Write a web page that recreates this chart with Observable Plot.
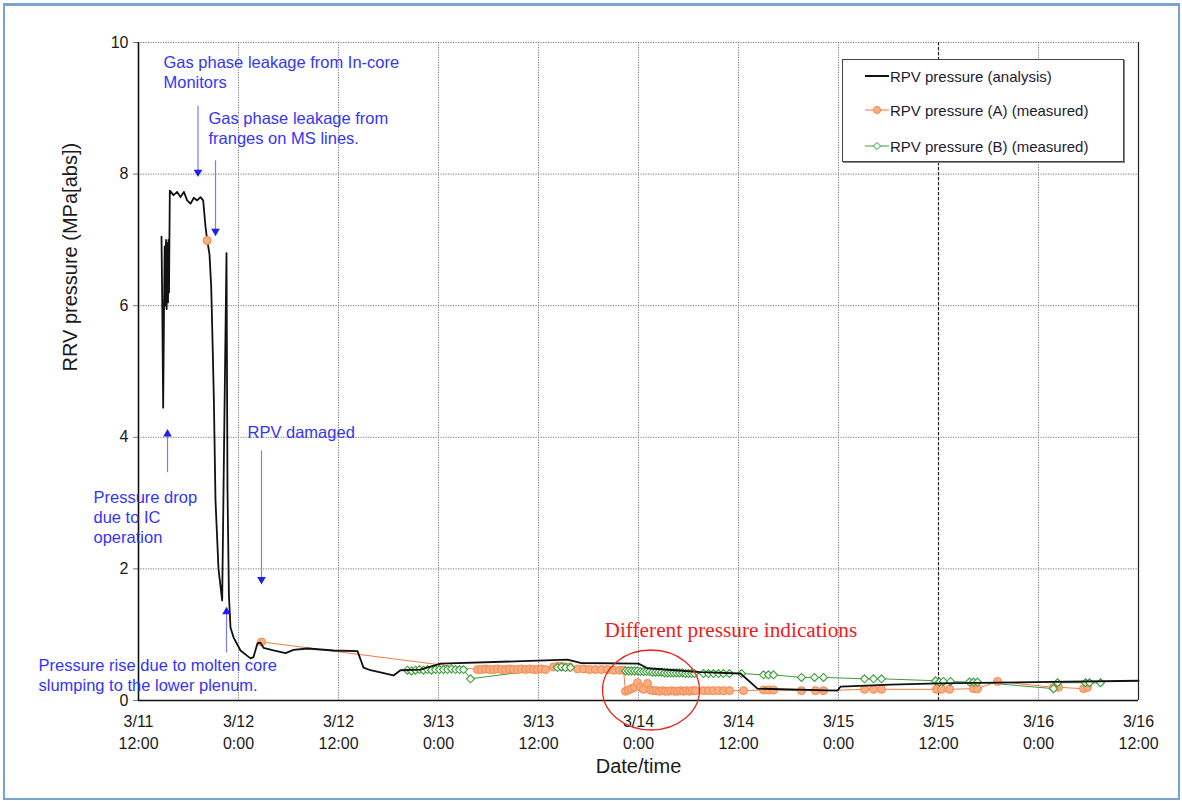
<!DOCTYPE html>
<html>
<head>
<meta charset="utf-8">
<script src="https://cdn.jsdelivr.net/npm/d3@7"></script>
<script src="https://cdn.jsdelivr.net/npm/@observablehq/plot@0.6"></script>
<style>
  html, body { margin: 0; padding: 0; background: #fff; }
  #wrap { position: relative; width: 1182px; height: 801px; overflow: hidden; font-family: "Liberation Sans", Arial, sans-serif; }
  #border { position: absolute; left: 3px; top: 3px; width: 1173px; height: 792px; border: 2px solid #7aa3d2; border-top-width: 3px; pointer-events: none; box-sizing: content-box; }
  #legend { position: absolute; left: 842px; top: 59px; width: 280px; height: 101px; border: 1px solid #444; background: #fff; box-shadow: 1px 1px 0 #888; }
  .row { position: absolute; left: 22px; height: 20px; display: flex; align-items: center; font-size: 15px; color: #1e1a2e; white-space: nowrap; }
  .row svg { margin-right: 1px; }
</style>
</head>
<body>
<div id="wrap">
  <div id="chart"></div>
  <div id="legend"></div>
  <div id="border"></div>
</div>
<script>
// ---------- data (hours after 3/11 12:00, pressure in MPa[abs]) ----------
const analysisHours = [2.76,2.86,2.96,3.06,3.14,3.22,3.30,3.38,3.46,3.54,3.60,3.66,3.76,4.2,4.64,5.04,5.44,5.84,6.24,6.64,7.04,7.44,7.76,8.04,8.24,8.52,8.72,8.84,9.04,9.24,9.6,10.04,10.3,10.56,10.68,10.85,11.04,11.4,12.24,13.44,13.8,14.28,14.64,15.0,16.2,17.64,18.6,20.28,23.4,26.28,27.0,27.84,30.6,31.44,33.84,36.24,51.48,53.04,60.0,61.08,67.44,72.24,74.28,83.88,84.24,85.8,90.24,96,120];
const analysisMPa   = [7.05,5.9,4.45,5.9,6.9,6.0,7.0,5.95,6.95,6.05,7.0,6.2,7.75,7.68,7.73,7.65,7.73,7.6,7.55,7.64,7.6,7.65,7.6,7.2,7.0,6.78,6.3,5.7,4.6,3.04,2.0,1.52,4.2,6.8,3.2,1.6,1.11,0.96,0.76,0.64,0.66,0.87,0.88,0.8,0.76,0.72,0.77,0.79,0.76,0.75,0.5,0.46,0.38,0.46,0.47,0.56,0.62,0.57,0.56,0.49,0.43,0.41,0.18,0.15,0.21,0.22,0.24,0.26,0.3];

// first measured A point stands alone (no connecting line)
const measAIsolatedHours = [8.24];
const measAIsolatedMPa   = [6.99];
const measAHours = [14.76,40.68,41.16,41.64,42.12,42.6,43.08,43.56,44.04,44.52,45.0,45.48,45.96,46.44,46.92,47.4,47.88,48.36,48.84,49.8,50.28,50.76,51.24,51.72,52.68,53.4,54.12,54.84,55.56,56.28,57.0,57.72,58.2,58.44,58.8,59.16,59.52,59.88,60.24,60.6,61.08,61.44,61.8,62.16,62.52,62.88,63.24,63.6,63.96,64.32,64.68,65.04,65.4,65.76,66.12,66.48,66.84,67.8,68.4,69.0,69.6,70.2,70.92,72.6,75.0,75.6,76.2,79.56,81.24,82.2,87.12,88.2,89.16,95.76,96.36,97.32,100.2,100.68,103.08,109.8,110.4,113.4,113.88];
const measAMPa   = [0.89,0.47,0.47,0.48,0.47,0.47,0.48,0.47,0.47,0.48,0.47,0.47,0.48,0.47,0.48,0.47,0.47,0.48,0.47,0.51,0.52,0.52,0.51,0.51,0.48,0.48,0.47,0.47,0.47,0.47,0.46,0.46,0.46,0.14,0.16,0.18,0.2,0.27,0.2,0.17,0.26,0.16,0.15,0.15,0.14,0.15,0.14,0.14,0.15,0.14,0.14,0.15,0.14,0.15,0.14,0.15,0.15,0.15,0.15,0.15,0.15,0.15,0.15,0.15,0.16,0.16,0.16,0.15,0.15,0.15,0.17,0.17,0.17,0.17,0.17,0.17,0.18,0.18,0.29,0.2,0.2,0.18,0.2];

const measBHours = [32.28,32.76,33.24,33.72,34.2,34.68,35.16,35.64,36.12,36.6,37.08,37.56,38.04,38.52,39.0,39.84,50.28,50.76,51.24,51.84,58.44,58.8,59.16,59.52,59.88,60.24,60.6,60.96,61.32,61.68,62.04,62.4,62.76,63.12,63.48,63.84,64.2,64.56,64.92,65.28,65.64,66.0,66.36,66.72,67.8,68.4,69.0,69.6,70.2,70.92,72.36,75.0,75.6,76.2,79.56,81.12,82.2,87.12,88.2,89.16,95.64,96.12,96.6,97.44,99.72,100.2,100.68,109.8,110.28,113.64,114.12,115.44];
const measBMPa   = [0.46,0.45,0.46,0.47,0.46,0.47,0.46,0.47,0.47,0.47,0.47,0.48,0.47,0.47,0.47,0.33,0.5,0.51,0.5,0.5,0.45,0.45,0.45,0.45,0.45,0.44,0.44,0.44,0.44,0.43,0.43,0.43,0.43,0.42,0.42,0.42,0.42,0.42,0.42,0.42,0.41,0.41,0.41,0.41,0.41,0.41,0.41,0.41,0.41,0.41,0.41,0.39,0.39,0.39,0.35,0.35,0.35,0.33,0.33,0.33,0.3,0.28,0.29,0.29,0.28,0.28,0.28,0.18,0.27,0.27,0.27,0.27];

const xTickHours  = [0,12,24,36,48,60,72,84,96,108,120];
const xTickLabels = ["3/11\n12:00","3/12\n0:00","3/12\n12:00","3/13\n0:00","3/13\n12:00","3/14\n0:00","3/14\n12:00","3/15\n0:00","3/15\n12:00","3/16\n0:00","3/16\n12:00"];
const yTicks = [0,2,4,6,8,10];

const seriesNames = ["RPV pressure (analysis)","RPV pressure (A) (measured)","RPV pressure (B) (measured)"];

// annotations
const noteTexts  = ["Gas phase leakage from In-core\nMonitors","Gas phase leakage from\nfranges on MS lines.","Pressure drop\ndue to IC\noperation","Pressure rise due to molten core\nslumping to the lower plenum."];
const noteHours  = [3.0, 8.4, -5.4, -12.0];
const noteMPa    = [9.82, 8.97, 3.21, 0.66];
const labelText  = ["RPV damaged"];
const labelHours = [13.08];
const labelMPa   = [4.07];
const arrowHours = [7.14, 9.24, 14.76, 3.48, 10.56];
const arrowFrom  = [9.04, 8.21, 3.80, 3.47, 0.73];
const arrowTo    = [8.03, 7.13, 1.84, 4.05, 1.35];
const redText = "Different pressure indications";
const redHours = 55.92, redMPa = 1.064;
const circleHours = 61.56, circleMPa = 0.152;

// ---------- build ----------
const T0 = Date.UTC(2011, 2, 11, 12);
const toDate = h => new Date(T0 + h * 3600e3);
const zipSeries = (hs, vs) => hs.map((h, i) => ({t: toDate(h), p: vs[i]}));
const analysis = zipSeries(analysisHours, analysisMPa);
const measA = zipSeries(measAHours, measAMPa);
const measA0 = zipSeries(measAIsolatedHours, measAIsolatedMPa);
const measB = zipSeries(measBHours, measBMPa);
const xTicks = xTickHours.map(toDate);
const notes = noteTexts.map((s, i) => ({s, t: toDate(noteHours[i]), p: noteMPa[i]}));
const labels = labelText.map((s, i) => ({s, t: toDate(labelHours[i]), p: labelMPa[i]}));
const arrows = arrowHours.map((h, i) => ({t: toDate(h), p1: arrowFrom[i], p2: arrowTo[i], up: arrowTo[i] > arrowFrom[i]}));

const blue = "#3535f5";
const orange = "#f07b45";
const green = "#3d9a3d";
const dotA = {x: "t", y: "p", r: 4, symbol: "circle", fill: "#f9ad82", stroke: "#f3884c", strokeWidth: 1};

function ellipseMark(index, scales) {
  const ns = "http://www.w3.org/2000/svg";
  const el = document.createElementNS(ns, "ellipse");
  el.setAttribute("cx", scales.x(toDate(circleHours)));
  el.setAttribute("cy", scales.y(circleMPa));
  el.setAttribute("rx", 48.5);
  el.setAttribute("ry", 40);
  el.setAttribute("fill", "none");
  el.setAttribute("stroke", "#e8241c");
  el.setAttribute("stroke-width", 1.3);
  return el;
}

const chart = Plot.plot({
  width: 1182,
  height: 801,
  marginLeft: 138,
  marginRight: 44,
  marginTop: 42,
  marginBottom: 101,
  style: {fontFamily: "'Liberation Sans', Arial, sans-serif", background: "transparent", overflow: "visible"},
  x: {type: "utc", domain: [toDate(0), toDate(120)], axis: null},
  y: {domain: [0, 10], axis: null},
  marks: [
    Plot.gridY(yTicks, {stroke: "#777", strokeOpacity: 1, strokeDasharray: "1.2,1.3"}),
    Plot.gridX(xTicks, {stroke: "#777", strokeOpacity: 1, strokeDasharray: "1.2,1.3"}),
    Plot.ruleX([toDate(96)], {stroke: "#222", strokeDasharray: "3,2", strokeWidth: 1.2}),
    Plot.ruleX([toDate(120)], {stroke: "#222", strokeWidth: 1.2}),
    Plot.axisY(yTicks, {tickSize: 5, tickPadding: 5, fontSize: 16, stroke: "#777", fill: "#1a1a1a", label: null, tickFormat: d => String(d)}),
    Plot.text(xTicks, {x: d => d, y: () => 0, text: (d, i) => xTickLabels[i], dy: 11, lineAnchor: "top", lineHeight: 1.38, fontSize: 16, fill: "#1a1a1a"}),
    Plot.text(["RRV pressure (MPa[abs])"], {frameAnchor: "left", dx: -68, rotate: -90, fontSize: 20, fill: "#1a1a1a"}),
    Plot.text(["Date/time"], {frameAnchor: "bottom", dy: 72, fontSize: 20, fill: "#1a1a1a"}),
    // data
    Plot.line(measB, {x: "t", y: "p", stroke: green, strokeWidth: 1}),
    Plot.line(measA, {x: "t", y: "p", stroke: orange, strokeWidth: 1}),
    Plot.dot(measA, dotA),
    Plot.dot(measB, {x: "t", y: "p", r: 3.6, symbol: "diamond2", fill: "#f4fbf2", stroke: green, strokeWidth: 1.1}),
    Plot.line(analysis, {x: "t", y: "p", stroke: "#111", strokeWidth: 1.8, strokeLinejoin: "round"}),
    Plot.dot(measA0, dotA),
    Plot.ruleX([toDate(0)], {stroke: "#111", strokeWidth: 1.6}),
    Plot.ruleY([0], {stroke: "#111", strokeWidth: 1.6}),
    // annotations
    Plot.link(arrows, {x1: "t", x2: "t", y1: "p1", y2: "p2", stroke: "#7b7bff", strokeWidth: 1.2}),
    Plot.dot(arrows, {x: "t", y: "p2", symbol: "triangle", r: 3.2, fill: "#1f1ff0", stroke: "none", rotate: d => d.up ? 0 : 180}),
    Plot.text(notes, {x: "t", y: "p", text: "s", textAnchor: "start", lineAnchor: "top", lineHeight: 1.2, fontSize: 16.5, fill: blue}),
    Plot.text(labels, {x: "t", y: "p", text: "s", textAnchor: "start", fontSize: 16.5, fill: blue}),
    Plot.text([redText], {x: () => toDate(redHours), y: () => redMPa, text: d => d, textAnchor: "start", fontSize: 21.3, fontFamily: "'Liberation Serif', 'Times New Roman', serif", fill: "#ee1c1c"}),
    ellipseMark
  ]
});
document.getElementById("chart").appendChild(chart);

// legend (HTML overlay)
const legend = document.getElementById("legend");
const rowsTop = [6, 40, 76];
const swatch = [
  `<svg width="24" height="12"><line x1="0" y1="6" x2="24" y2="6" stroke="#111" stroke-width="2"/></svg>`,
  `<svg width="24" height="12"><line x1="0" y1="6" x2="24" y2="6" stroke="${orange}" stroke-width="1"/><circle cx="12" cy="6" r="3.6" fill="#f9ad82" stroke="#f3884c"/></svg>`,
  `<svg width="24" height="12"><line x1="0" y1="6" x2="24" y2="6" stroke="${green}" stroke-width="1"/><path d="M12,2.4L15.6,6L12,9.6L8.4,6Z" fill="#f4fbf2" stroke="${green}"/></svg>`
];
seriesNames.forEach((name, i) => {
  const row = document.createElement("div");
  row.className = "row";
  row.style.top = rowsTop[i] + "px";
  row.innerHTML = swatch[i] + `<span>${name}</span>`;
  legend.appendChild(row);
});
</script>
</body>
</html>
